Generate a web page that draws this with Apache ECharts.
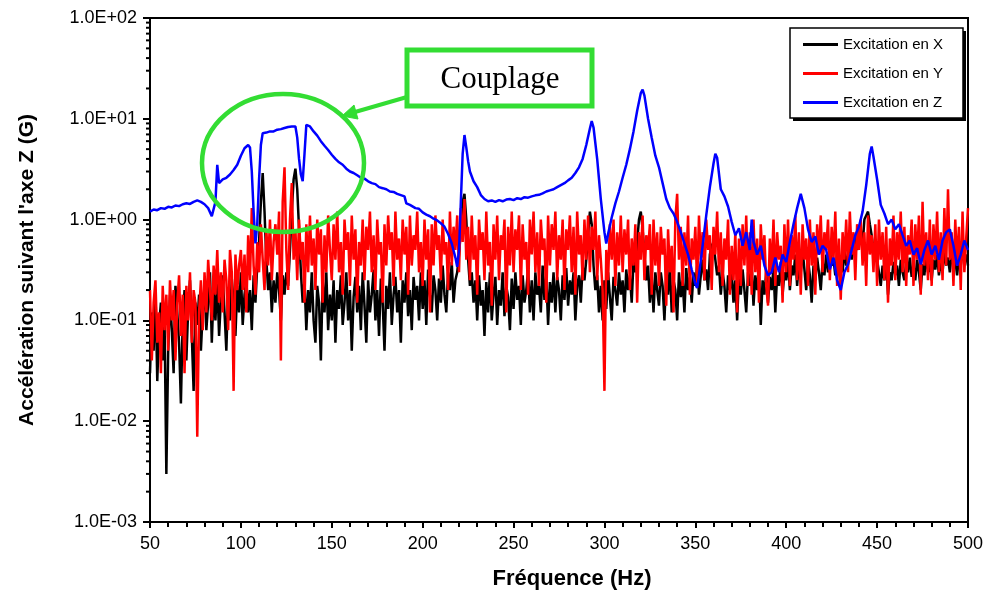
<!DOCTYPE html>
<html lang="fr">
<head>
    <meta charset="utf-8">
    <title>Accélération suivant l'axe Z</title>
    <style>
        html, body { margin: 0; padding: 0; background: #fff; }
    </style>
</head>
<body>
    <div id="main" style="width:986px;height:592px;"></div>
    <script src="https://cdn.jsdelivr.net/npm/echarts@6/dist/echarts.min.js"></script>
    <script type="text/javascript">

    // frequency grid of the X / Y measurements (Hz)
    var FREQ_START = 50, FREQ_STEP = 1;

    // Excitation en X (G), one value per Hz from 50 to 500
    var accelX = [
        0.03,0.12,0.05,0.2,0.025,0.09,0.15,0.04,0.1,0.003,        // 50
        0.05,0.18,0.08,0.03,0.22,0.12,0.06,0.015,0.1,0.2,         // 60
        0.04,0.13,0.25,0.07,0.02,0.15,0.09,0.18,0.05,0.12,        // 70
        0.22,0.08,0.15,0.3,0.06,0.2,0.1,0.25,0.07,0.16,           // 80
        0.28,0.12,0.05,0.2,0.1,0.26,0.15,0.07,0.22,0.12,          // 90
        0.3,0.09,0.18,0.25,0.12,0.2,0.08,0.28,0.15,0.35,          // 100
        0.6,1.5,2.9,1.2,0.4,0.2,0.3,0.12,0.25,0.15,               // 110
        0.3,0.2,0.1,0.28,0.18,0.3,0.22,0.5,1.2,2.5,               // 120
        3.2,2.0,0.8,0.3,0.15,0.25,0.08,0.2,0.12,0.3,              // 130
        0.1,0.06,0.22,0.15,0.04,0.25,0.12,0.3,0.08,0.18,          // 140
        0.1,0.25,0.06,0.2,0.13,0.28,0.09,0.15,0.3,0.1,            // 150
        0.2,0.05,0.17,0.27,0.12,0.22,0.08,0.3,0.14,0.06,          // 160
        0.25,0.12,0.18,0.32,0.1,0.2,0.07,0.26,0.15,0.05,          // 170
        0.22,0.13,0.3,0.09,0.18,0.27,0.12,0.2,0.06,0.25,          // 180
        0.15,0.3,0.11,0.2,0.08,0.27,0.16,0.22,0.1,0.3,            // 190
        0.13,0.25,0.09,0.32,0.18,0.12,0.28,0.2,0.1,0.26,          // 200
        0.15,0.35,0.18,0.12,0.3,0.2,0.38,0.15,0.25,0.3,           // 210
        0.45,0.8,1.5,1.8,1.0,0.4,0.22,0.3,0.15,0.25,              // 220
        0.1,0.28,0.14,0.2,0.07,0.24,0.12,0.3,0.1,0.18,            // 230
        0.27,0.09,0.2,0.14,0.3,0.11,0.22,0.17,0.08,0.26,          // 240
        0.13,0.3,0.16,0.22,0.09,0.28,0.15,0.2,0.32,0.12,          // 250
        0.25,0.1,0.3,0.18,0.22,0.12,0.35,0.16,0.28,0.09,          // 260
        0.24,0.15,0.3,0.12,0.27,0.2,0.1,0.28,0.16,0.33,           // 270
        0.14,0.25,0.18,0.3,0.1,0.22,0.28,0.15,0.35,0.25,          // 280
        0.4,0.7,1.2,0.9,0.35,0.2,0.28,0.12,0.22,0.1,              // 290
        0.25,0.13,0.3,0.17,0.1,0.27,0.2,0.14,0.3,0.18,            // 300
        0.25,0.12,0.32,0.2,0.28,0.15,0.4,0.3,0.6,1.0,             // 310
        1.2,0.8,0.45,0.25,0.35,0.15,0.28,0.12,0.3,0.2,            // 320
        0.14,0.3,0.22,0.1,0.28,0.18,0.35,0.12,0.25,0.2,           // 330
        0.1,0.3,0.17,0.25,0.12,0.33,0.2,0.27,0.15,0.3,            // 340
        0.22,0.35,0.18,0.28,0.4,0.25,0.32,0.2,0.45,0.55,          // 350
        0.6,0.4,0.28,0.35,0.18,0.3,0.22,0.12,0.28,0.2,            // 360
        0.3,0.15,0.25,0.1,0.28,0.18,0.32,0.2,0.12,0.3,            // 370
        0.22,0.35,0.14,0.28,0.2,0.32,0.09,0.25,0.18,0.3,          // 380
        0.15,0.27,0.2,0.33,0.12,0.28,0.22,0.38,0.18,0.3,          // 390
        0.25,0.4,0.2,0.35,0.28,0.45,0.22,0.38,0.3,0.5,            // 400
        0.32,0.2,0.4,0.28,0.15,0.35,0.25,0.42,0.3,0.2,            // 410
        0.38,0.28,0.45,0.3,0.52,0.35,0.4,0.28,0.48,0.33,          // 420
        0.4,0.3,0.5,0.35,0.45,0.6,0.4,0.55,0.7,0.5,               // 430
        0.65,0.8,0.55,1.0,1.1,1.2,0.9,0.7,0.5,0.6,                // 440
        0.4,0.3,0.22,0.35,0.25,0.4,0.18,0.3,0.25,0.38,            // 450
        0.28,0.35,0.22,0.4,0.3,0.25,0.38,0.3,0.42,0.27,           // 460
        0.35,0.25,0.4,0.3,0.2,0.36,0.28,0.45,0.3,0.38,            // 470
        0.25,0.4,0.32,0.45,0.28,0.38,0.3,0.5,0.35,0.42,           // 480
        0.3,0.45,0.35,0.4,0.28,0.42,0.35,0.5,0.38,0.45,           // 490
        0.35                                                      // 500
    ];

    // Excitation en Y (G), same grid
    var accelY = [
        0.2,0.04,0.15,0.25,0.06,0.12,0.03,0.22,0.08,0.18,         // 50
        0.05,0.25,0.1,0.2,0.04,0.15,0.28,0.07,0.18,0.03,          // 60
        0.22,0.1,0.3,0.06,0.2,0.15,0.007,0.12,0.25,0.08,          // 70
        0.3,0.12,0.4,0.2,0.1,0.35,0.18,0.5,0.15,0.3,              // 80
        0.12,0.4,0.25,0.08,0.5,0.3,0.02,0.45,0.2,0.35,            // 90
        0.5,0.2,0.45,0.12,0.7,0.25,1.3,0.35,0.18,0.6,             // 100
        0.3,0.9,0.4,0.2,0.8,0.35,1.0,0.25,0.6,0.9,                // 110
        0.45,1.2,0.04,1.5,3.3,0.5,0.2,1.0,2.3,0.4,                // 120
        0.8,0.25,1.0,0.4,0.6,0.15,0.9,0.3,1.1,0.35,               // 130
        0.65,0.2,1.0,0.45,0.8,0.15,0.7,0.3,1.1,0.5,               // 140
        0.25,0.9,0.4,1.2,0.3,0.6,0.18,1.0,0.5,0.75,               // 150
        0.22,1.1,0.4,0.8,0.15,0.6,0.35,1.0,0.25,0.85,             // 160
        0.5,1.2,0.3,0.7,0.2,1.0,0.45,0.6,0.15,0.9,                // 170
        0.35,1.1,0.5,0.75,0.22,1.2,0.4,0.65,0.25,1.0,             // 180
        0.45,0.85,0.18,1.1,0.35,0.7,0.5,1.2,0.3,0.6,              // 190
        0.22,1.0,0.4,0.8,0.12,0.9,0.35,1.1,0.5,0.7,               // 200
        0.25,1.0,0.45,0.6,0.2,1.2,0.35,0.85,0.5,1.1,              // 210
        0.3,1.3,0.6,1.6,0.4,0.85,0.25,1.1,0.4,0.7,                // 220
        0.18,1.0,0.5,0.75,0.25,1.2,0.35,0.6,0.14,0.9,             // 230
        0.4,1.1,0.25,0.7,0.5,1.0,0.12,0.85,0.35,1.2,              // 240
        0.3,0.8,0.5,1.1,0.2,0.9,0.4,0.6,0.18,1.0,                 // 250
        0.45,1.2,0.3,0.75,0.22,1.0,0.5,0.65,0.15,1.1,             // 260
        0.35,0.9,0.5,1.2,0.25,0.7,0.4,1.0,0.2,0.8,                // 270
        0.5,1.1,0.3,0.85,0.18,1.2,0.45,0.7,0.25,1.0,              // 280
        0.4,1.1,0.3,0.85,0.5,1.2,0.25,0.7,0.4,0.2,                // 290
        0.02,0.5,0.25,0.9,0.4,1.0,0.22,0.75,0.35,1.1,             // 300
        0.3,0.8,0.45,1.0,0.2,0.65,0.35,0.9,0.15,0.75,             // 310
        0.4,1.1,0.25,0.7,0.5,0.9,0.18,1.0,0.35,0.75,              // 320
        0.22,0.85,0.45,0.65,0.14,0.8,0.3,0.55,0.12,1.0,           // 330
        1.8,0.4,0.85,0.22,0.75,0.35,1.1,0.18,0.65,0.4,            // 340
        0.85,0.22,1.1,0.4,0.75,0.25,1.0,0.5,0.7,0.2,              // 350
        0.85,0.45,1.2,0.3,0.75,0.22,0.65,0.4,1.0,0.18,            // 360
        0.55,0.25,0.75,0.12,0.65,0.22,0.9,0.35,1.1,0.22,          // 370
        0.75,0.18,1.0,0.3,0.65,0.15,0.9,0.4,0.7,0.22,             // 380
        0.14,0.65,0.3,1.0,0.22,0.75,0.4,0.55,0.15,0.9,            // 390
        0.3,1.0,0.22,0.7,0.4,1.1,0.25,0.75,0.18,0.9,              // 400
        0.4,0.65,0.22,1.0,0.35,0.75,0.18,0.9,0.45,1.1,            // 410
        0.3,0.75,0.5,1.0,0.25,0.85,0.4,1.2,0.22,0.65,             // 420
        0.16,0.75,0.4,1.0,0.3,1.2,0.45,0.75,0.25,0.9,             // 430
        0.5,1.0,0.35,0.75,0.22,1.1,0.45,0.7,0.3,0.9,              // 440
        0.22,1.0,0.4,0.75,0.25,0.85,0.15,0.65,0.35,1.1,           // 450
        0.25,0.75,0.4,1.2,0.3,0.85,0.22,0.7,0.45,1.0,             // 460
        0.22,0.9,0.4,1.1,0.18,1.5,0.35,0.75,0.25,1.0,             // 470
        0.22,0.9,0.4,1.2,0.3,0.75,0.25,1.3,0.35,2.0,              // 480
        0.4,0.75,0.22,1.0,0.35,0.85,0.2,1.2,0.3,0.65,             // 490
        1.3                                                       // 500
    ];

    // Excitation en Z: [frequency (Hz), acceleration (G)], denser around the resonances
    var accelZ = [
        [50,1.2],[52,1.26],[54,1.24],[56,1.3],[58,1.28],[60,1.34],[62,1.32],[64,1.38],[66,1.36],[68,1.42],
        [70,1.45],[72,1.43],[74,1.5],[76,1.55],[78,1.5],[80,1.42],[82,1.3],[84,1.08],[85,1.05],[86,1.5],
        [87,3.5],[88,2.3],[90,2.5],[92,2.6],[94,2.8],[96,3.1],[98,3.5],[100,4.3],[102,5.1],[104,5.5],
        [105,5.2],[106,3.0],[107,1.2],[108,0.58],[109,0.9],[110,2.5],[111,5.5],[112,7.2],[114,7.3],[116,7.5],
        [118,7.5],[120,7.8],[122,7.9],[124,8.1],[126,8.3],[128,8.4],[130,8.4],[131,6.5],[132,4.0],[133,2.8],
        [134,2.4],[135,4.5],[136,8.7],[138,8.4],[140,7.5],[142,6.8],[144,6.0],[146,5.4],[148,4.9],[150,4.4],
        [152,4.0],[154,3.7],[156,3.5],[158,3.2],[160,3.0],[162,2.9],[164,2.75],[166,2.6],[168,2.55],[170,2.4],
        [172,2.3],[174,2.25],[176,2.1],[178,2.05],[180,2.0],[182,1.9],[184,1.88],[186,1.8],[188,1.75],[190,1.7],
        [191,1.45],[193,1.4],[196,1.3],[198,1.28],[200,1.18],[202,1.12],[204,1.08],[206,1.02],[208,0.98],[210,0.92],
        [212,0.85],[214,0.72],[216,0.58],[218,0.42],[219,0.34],[220,0.5],[221,1.5],[222,4.5],[223,6.9],[224,5.2],
        [225,3.8],[226,3.0],[228,2.4],[230,2.1],[232,1.75],[234,1.6],[236,1.52],[238,1.55],[240,1.5],[242,1.56],
        [244,1.52],[246,1.58],[248,1.6],[250,1.56],[252,1.63],[254,1.6],[256,1.67],[258,1.65],[260,1.7],[262,1.74],
        [264,1.76],[266,1.82],[268,1.9],[270,1.95],[272,2.0],[274,2.1],[276,2.2],[278,2.3],[280,2.45],[282,2.6],
        [284,2.9],[286,3.3],[288,4.0],[290,5.5],[292,8.0],[293,9.5],[294,8.2],[296,4.0],[298,1.6],[300,0.75],
        [301,0.58],[302,0.72],[304,1.05],[306,1.45],[308,1.9],[310,2.6],[312,3.5],[314,5.0],[316,7.5],[318,12],
        [320,18],[321,19.5],[322,17],[324,10],[326,6.5],[328,4.3],[330,3.3],[332,2.3],[334,1.6],[336,1.3],
        [338,1.15],[340,0.95],[342,0.75],[344,0.58],[346,0.45],[348,0.32],[350,0.23],[351,0.21],[352,0.28],[354,0.55],
        [356,1.1],[358,2.1],[360,3.6],[361,4.5],[362,4.1],[364,2.0],[366,1.7],[368,1.35],[370,0.95],[372,0.7],
        [374,0.82],[376,0.55],[378,0.75],[380,0.5],[381,1.0],[382,0.6],[384,0.45],[386,0.55],[388,0.35],[390,0.28],
        [392,0.3],[394,0.42],[396,0.3],[398,0.45],[400,0.38],[402,0.6],[404,0.9],[406,1.3],[408,1.8],[409,1.75],
        [410,1.3],[412,0.8],[414,0.6],[416,0.68],[418,0.45],[420,0.55],[422,0.5],[424,0.32],[426,0.42],[428,0.25],
        [430,0.2],[432,0.3],[434,0.36],[436,0.5],[438,0.7],[440,0.85],[442,1.2],[444,2.2],[446,4.5],[447,5.3],
        [448,4.2],[450,2.5],[452,1.4],[454,1.15],[456,0.9],[458,1.0],[460,0.8],[462,0.9],[464,0.7],[466,0.55],
        [468,0.62],[470,0.45],[472,0.52],[474,0.36],[476,0.5],[478,0.62],[480,0.45],[482,0.55],[484,0.4],[486,0.62],
        [488,0.75],[490,0.8],[492,0.55],[494,0.35],[496,0.45],[498,0.62],[500,0.5]
    ];

    var seriesNames = ['Excitation en X', 'Excitation en Y', 'Excitation en Z'];
    var seriesColors = ['#000000', '#ff0000', '#0000ff'];

    function onGrid(vals) {
        return vals.map(function (v, i) { return [FREQ_START + i * FREQ_STEP, v]; });
    }

    // 1.0E-03 style labels
    function sciLabel(v) {
        var e = Math.round(Math.log(v) / Math.LN10);
        var s = e < 0 ? '-' : '+';
        var a = Math.abs(e);
        return '1.0E' + s + (a < 10 ? '0' + a : '' + a);
    }

    var myChart = echarts.init(document.getElementById('main'));

    var sans = 'Liberation Sans, Arial, sans-serif';
    var labelFont = { color: '#000', fontFamily: sans, fontSize: 18 };

    var option = {
        animation: false,
        backgroundColor: '#fff',
        grid: {
            left: 150, right: 18, top: 18, bottom: 70,
            show: true,
            borderColor: '#000',
            borderWidth: 2,
            containLabel: false,
            outerBoundsMode: 'none'
        },
        legend: {
            data: seriesNames,
            orient: 'vertical',
            left: 790,
            top: 28,
            z: 30,
            icon: 'rect',
            itemWidth: 35,
            itemHeight: 3,
            itemGap: 14,
            padding: [9, 20, 9, 13],
            textStyle: { color: '#000', fontFamily: sans, fontSize: 15 }
        },
        xAxis: {
            type: 'value',
            min: 50,
            max: 500,
            interval: 50,
            name: 'Fréquence (Hz)',
            nameLocation: 'middle',
            nameGap: 46,
            nameTextStyle: { color: '#000', fontFamily: sans, fontSize: 22, fontWeight: 'bold', padding: [0, 0, 0, 26] },
            axisLine: { show: true, lineStyle: { color: '#000', width: 2 } },
            axisTick: { show: true, length: 6, lineStyle: { color: '#000', width: 2 } },
            minorTick: { show: true, splitNumber: 5, length: 5, lineStyle: { color: '#000', width: 2 } },
            axisLabel: Object.assign({ margin: 13 }, labelFont),
            splitLine: { show: false }
        },
        yAxis: {
            type: 'log',
            logBase: 10,
            min: 0.001,
            max: 100,
            name: "Accélération suivant l'axe Z (G)",
            nameLocation: 'middle',
            nameGap: 112,
            nameTextStyle: { color: '#000', fontFamily: sans, fontSize: 21, fontWeight: 'bold' },
            axisLine: { show: true, lineStyle: { color: '#000', width: 2 } },
            axisTick: { show: true, length: 7, lineStyle: { color: '#000', width: 2 } },
            axisLabel: Object.assign({ margin: 13, formatter: sciLabel }, labelFont),
            splitLine: { show: false }
        },
        series: [
            { name: seriesNames[0], type: 'line', data: onGrid(accelX) },
            { name: seriesNames[1], type: 'line', data: onGrid(accelY) },
            { name: seriesNames[2], type: 'line', data: accelZ }
        ].map(function (s, i) {
            s.showSymbol = false;
            s.symbol = 'none';
            s.sampling = null;
            s.color = seriesColors[i];
            s.lineStyle = { color: seriesColors[i], width: 2.5 };
            s.z = 2 + i;
            return s;
        })
    };
    myChart.setOption(option);

    // minor log ticks (2..9 of each decade), placed through the axis scale
    var ticks = [];
    var axisX = myChart.convertToPixel({ xAxisIndex: 0 }, 50);
    for (var e = -3; e < 2; e++) {
        for (var k = 2; k <= 9; k++) {
            var py = myChart.convertToPixel({ yAxisIndex: 0 }, k * Math.pow(10, e));
            ticks.push({
                type: 'line', silent: true, z: 10,
                shape: { x1: axisX - 4, y1: py, x2: axisX, y2: py },
                style: { stroke: '#000', lineWidth: 2 }
            });
        }
    }

    // legend frame with its hard drop shadow
    var legendBox = [
        { type: 'rect', silent: true, z: 25,
          shape: { x: 793, y: 31, width: 173, height: 90 },
          style: { fill: '#000' } },
        { type: 'rect', silent: true, z: 26,
          shape: { x: 790, y: 28, width: 173, height: 90 },
          style: { fill: '#fff', stroke: '#000', lineWidth: 1.5 } }
    ];

    // "Couplage" annotation
    var green = '#33dd33';
    var notes = [
        { type: 'ellipse', silent: true, z: 20,
          shape: { cx: 283, cy: 163, rx: 81, ry: 69 },
          style: { fill: 'none', stroke: green, lineWidth: 4.5 } },
        { type: 'rect', silent: true, z: 20,
          shape: { x: 407, y: 50, width: 185, height: 56 },
          style: { fill: '#fff', stroke: green, lineWidth: 5 } },
        { type: 'text', silent: true, z: 21,
          x: 500, y: 80,
          style: { text: 'Couplage', fill: '#000', font: '31px "Liberation Serif", "Times New Roman", serif',
                   textAlign: 'center', textVerticalAlign: 'middle' } },
        { type: 'line', silent: true, z: 20,
          shape: { x1: 407, y1: 97, x2: 355, y2: 112 },
          style: { stroke: green, lineWidth: 4 } },
        { type: 'polygon', silent: true, z: 20,
          shape: { points: [[342, 116], [358, 119], [354, 105]] },
          style: { fill: green, stroke: green, lineWidth: 1 } }
    ];

    myChart.setOption({ graphic: ticks.concat(legendBox, notes) });
    </script>
</body>
</html>
